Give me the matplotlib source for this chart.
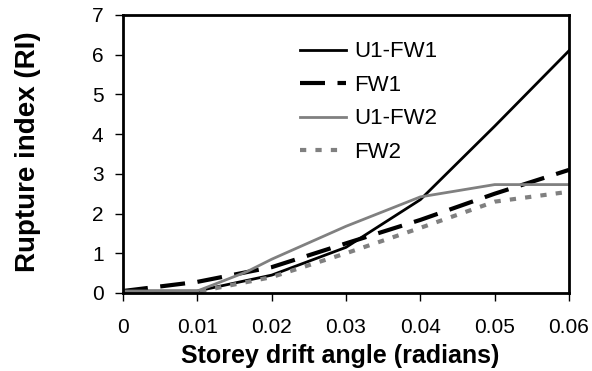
import matplotlib
matplotlib.use("Agg")
import matplotlib.pyplot as plt

plt.rcParams['font.family'] = ['Liberation Sans', 'DejaVu Sans']

drift_u1fw1 = [0.0, 0.01, 0.02, 0.03, 0.04, 0.05, 0.06]
ri_u1fw1 = [0.05, 0.05, 0.45, 1.15, 2.35, 4.2, 6.1]

drift_fw1 = [0.0, 0.01, 0.02, 0.03, 0.04, 0.05, 0.06]
ri_fw1 = [0.05, 0.28, 0.65, 1.25, 1.84, 2.5, 3.1]

drift_u1fw2 = [0.0, 0.01, 0.0167, 0.02, 0.03, 0.04, 0.05, 0.06]
ri_u1fw2 = [0.05, 0.05, 0.54, 0.85, 1.68, 2.42, 2.73, 2.73]

drift_fw2 = [0.0, 0.01, 0.02, 0.03, 0.04, 0.05, 0.06]
ri_fw2 = [0.0, 0.03, 0.4, 1.0, 1.64, 2.3, 2.55]

x_ticks = [0, 0.01, 0.02, 0.03, 0.04, 0.05, 0.06]
x_tick_labels = ['0', '0.01', '0.02', '0.03', '0.04', '0.05', '0.06']
y_ticks = [0, 1, 2, 3, 4, 5, 6, 7]

fig = plt.figure(figsize=(5.92, 3.71), dpi=100)
ax = fig.add_axes([123/592, 1-293/371, (569-123)/592, (293-15)/371])

gray = '#808080'
ax.plot(drift_u1fw1, ri_u1fw1, color='black', lw=2.0, label='U1-FW1')
ax.plot(drift_fw1, ri_fw1, color='black', lw=3.0, dashes=(6, 3), label='FW1')
ax.plot(drift_u1fw2, ri_u1fw2, color=gray, lw=2.0, label='U1-FW2')
ax.plot(drift_fw2, ri_fw2, color=gray, lw=3.0, dashes=(1.5, 2.2), label='FW2')

ax.set_xlim(0, 0.06)
ax.set_ylim(0, 7)
ax.set_xticks(x_ticks)
ax.set_xticklabels(x_tick_labels)
ax.set_yticks(y_ticks)
ax.tick_params(axis='both', labelsize=15, length=6, width=1, direction='out', color='black')
ax.tick_params(axis='x', pad=12)
ax.tick_params(axis='y', pad=8)
for s in ax.spines.values():
    s.set_linewidth(2.0)
    s.set_color('black')

ax.set_xlabel('Storey drift angle (radians)', fontsize=18, fontweight='bold')
ax.xaxis.set_label_coords(0.488, -0.185)
ax.set_ylabel('Rupture index (RI)', fontsize=20, fontweight='bold')
ax.yaxis.set_label_coords(-0.183, 0.51)

leg = ax.legend(loc='upper left', bbox_to_anchor=(0.397, 0.905), frameon=False, fontsize=16,
                handlelength=2.05, handletextpad=0.38, labelspacing=0.56, borderaxespad=0,
                borderpad=0)

fig.savefig('out.png', dpi=100)
